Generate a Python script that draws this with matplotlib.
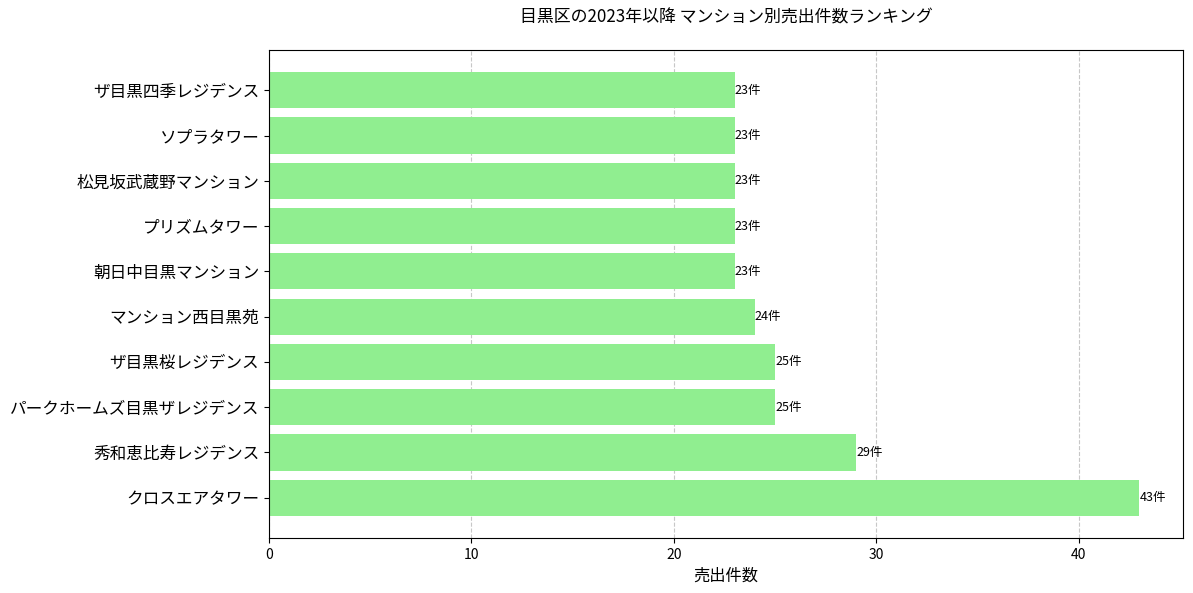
import matplotlib
matplotlib.use("Agg")
import matplotlib.pyplot as plt

plt.rcParams['font.family'] = ['Noto Sans CJK JP', 'DejaVu Sans']

names = ["クロスエアタワー", "秀和恵比寿レジデンス", "パークホームズ目黒ザレジデンス",
         "ザ目黒桜レジデンス", "マンション西目黒苑", "朝日中目黒マンション",
         "プリズムタワー", "松見坂武蔵野マンション", "ソプラタワー", "ザ目黒四季レジデンス"]
counts = [43, 29, 25, 25, 24, 23, 23, 23, 23, 23]

fig = plt.figure(figsize=(11.93, 5.93), dpi=100)
ax = fig.add_axes([0.2255, 0.0927, 0.7661, 0.823])
bars = ax.barh(names, counts, color="#90EE90", height=0.8)
for b, v in zip(bars, counts):
    ax.text(b.get_width(), b.get_y() + b.get_height() / 2, f"{v}件",
            va="center", ha="left", fontsize=9)
ax.grid(axis="x", linestyle="--", alpha=0.7)
ax.set_axisbelow(True)
ax.set_xlabel("売出件数", fontsize=11.7)
ax.set_title("目黒区の2023年以降 マンション別売出件数ランキング", fontsize=12.2, pad=20)
ax.tick_params(axis="y", labelsize=12)
ax.tick_params(axis="x", labelsize=10)
fig.savefig("out.png", dpi=100)
